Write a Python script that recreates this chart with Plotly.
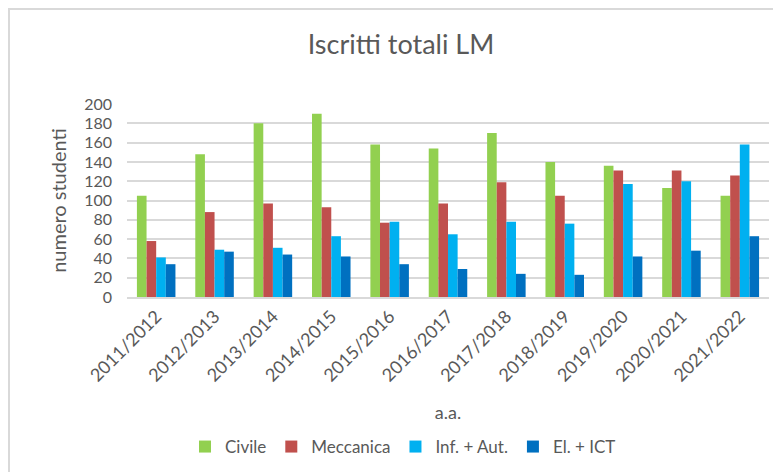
import plotly.graph_objects as go

anni = ['2011/2012', '2012/2013', '2013/2014', '2014/2015', '2015/2016', '2016/2017',
        '2017/2018', '2018/2019', '2019/2020', '2020/2021', '2021/2022']
civile = [105, 148, 180, 190, 158, 154, 170, 140, 136, 113, 105]
meccanica = [58, 88, 97, 93, 77, 97, 119, 105, 131, 131, 126]
inf_aut = [41, 49, 51, 63, 78, 65, 78, 76, 117, 120, 158]
el_ict = [34, 47, 44, 42, 34, 29, 24, 23, 42, 48, 63]

serie = [('Civile', civile, '#92d050'),
         ('Meccanica', meccanica, '#c0504d'),
         ('Inf. + Aut.', inf_aut, '#00b0f0'),
         ('El. + ICT', el_ict, '#0070c0')]

grigio = '#595959'
font = 'Lato, "Open Sans", sans-serif'

fig = go.Figure()
for nome, valori, colore in serie:
    fig.add_trace(go.Bar(x=anni, y=valori, name=nome, marker_color=colore,
                         marker_line_width=0))

# la pagina ha un margine di 8px: la figura parte da (8, 8)
W, H = 773, 464
L, R, T, B = 119, 12, 96, 175
pw, ph = W - L - R, H - T - B

fig.update_layout(
    width=W, height=H,
    margin=dict(l=L, r=R, t=T, b=B, autoexpand=False),
    paper_bgcolor='white', plot_bgcolor='white',
    font=dict(family=font, color=grigio, size=16),
    barmode='group', bargap=0.34, bargroupgap=0,
    title=dict(text='Iscritti totali LM', x=393 / W, xanchor='center',
               y=1 - 37 / H, yanchor='middle', font=dict(size=27, color=grigio)),
    showlegend=True,
    legend=dict(orientation='h', x=(395 - L) / pw, xanchor='center',
                y=(T + ph - 439) / ph, yanchor='middle',
                font=dict(size=17, color=grigio), itemwidth=30,
                tracegroupgap=0, itemsizing='constant'),
    shapes=[dict(type='rect', xref='paper', yref='paper',
                 x0=(1 - L) / pw, x1=1.2, y0=-1.2, y1=1 + (T - 1) / ph,
                 line=dict(color='#d9d9d9', width=2), layer='below')],
)

fig.update_xaxes(tickangle=-45, showgrid=False, showline=True, automargin=False,
                 linecolor='#d9d9d9', linewidth=2, ticks='',
                 tickfont=dict(size=18, color=grigio),
                 title=dict(text='a.a.', standoff=22,
                            font=dict(size=18, color=grigio)))
fig.update_yaxes(range=[0, 200], dtick=20, showgrid=True, gridcolor='#d9d9d9',
                 gridwidth=2, zeroline=False, showline=False, ticks='',
                 automargin=False, ticklabelstandoff=14,
                 tickfont=dict(size=16, color=grigio),
                 title=dict(text='numero studenti', standoff=12,
                            font=dict(size=20, color=grigio)))

fig.write_html('out.html')
